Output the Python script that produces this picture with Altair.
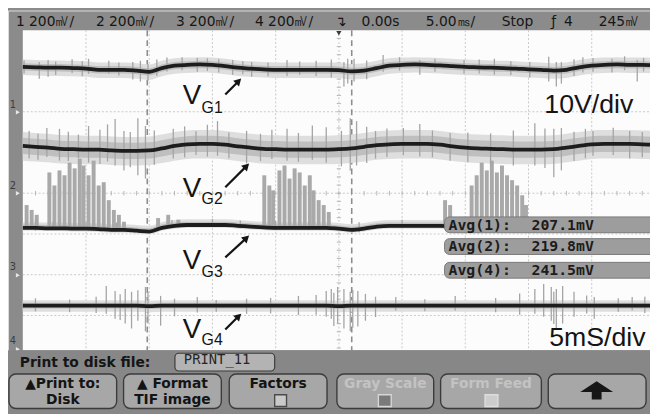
import math
import altair as alt
import pandas as pd
import numpy as np

# ---------------- data (read from the scope screen) ----------------
# time in ms (5 ms/div, trigger at 0), voltages in V referenced to each channel's ground marker (10 V/div)
t_ms = list(range(-25, 26))
vg1 = [11.0, 10.9, 10.8, 10.8, 10.7, 10.6, 10.3, 10.3, 10.3, 10.1, 9.8, 10.7, 11.3, 11.5, 11.6, 11.5, 11.2,
       10.8, 10.6, 10.4, 10.3, 10.3, 10.3, 10.3, 10.3, 10.2, 9.9, 10.1, 10.7, 11.3, 11.5, 11.6, 11.5, 11.4,
       11.2, 11.0, 10.9, 10.8, 10.7, 10.6, 10.4, 10.3, 10.1, 10.3, 10.9, 11.3, 11.5, 11.6, 11.5, 11.5, 11.4]
vg2 = [11.6, 11.4, 11.2, 10.9, 10.8, 10.7, 10.7, 10.5, 10.4, 10.4, 10.5, 11.0, 11.6, 12.0, 12.1, 12.1, 11.9,
       11.5, 11.2, 10.9, 10.8, 10.7, 10.7, 10.7, 10.7, 10.8, 11.0, 11.4, 11.8, 12.0, 12.1, 12.1, 12.1, 11.9,
       11.5, 11.2, 11.0, 10.9, 10.8, 10.7, 10.7, 10.7, 10.8, 11.2, 11.6, 12.0, 12.1, 12.1, 12.1, 12.0, 11.9]
vg3 = [11.5, 11.5, 11.4, 11.4, 11.3, 11.3, 11.2, 11.0, 11.0, 10.8, 10.6, 11.5, 12.0, 12.2, 12.2, 12.2, 12.2,
       12.0, 11.8, 11.6, 11.5, 11.5, 11.5, 11.5, 11.5, 11.3, 11.0, 11.3, 11.8, 12.0, 12.0, 12.0, 12.0, 12.0,
       11.9, 11.8, 11.8, 11.6, 11.5, 11.5, 11.4, 11.3, 11.0, 11.3, 11.8, 12.0, 12.2, 12.2, 12.2, 12.1, 12.0]
vg4 = [12.4, 12.4, 12.4, 12.4, 12.4, 12.4, 12.4, 12.4, 12.4, 12.4, 12.3, 12.4, 12.4, 12.4, 12.4, 12.4, 12.4,
       12.4, 12.4, 12.4, 12.4, 12.4, 12.4, 12.4, 12.4, 12.3, 12.4, 12.4, 12.4, 12.4, 12.4, 12.4, 12.4, 12.4,
       12.4, 12.4, 12.4, 12.4, 12.4, 12.4, 12.4, 12.4, 12.4, 12.4, 12.4, 12.4, 12.4, 12.4, 12.4, 12.4, 12.4]

channels = ["VG1", "VG2", "VG3", "VG4"]
ground_marker_v = [20, 0, -20, -40]     # screen position of each ground marker (screen centre = 0 V)
band_up = [0.9, 2.0, 0.8, 0.7]           # dense noise core around each trace (V)
band_dn = [0.9, 2.0, 0.4, 0.7]
halo_up = [1.8, 3.4, 1.4, 1.3]           # thinner noise halo around each trace (V)
halo_dn = [2.0, 3.6, 0.7, 1.5]

# visible noise spikes: (time ms, top V, bottom V)
spikes1 = [(-23.7, 12.2, 8.1), (-23.0, 12.7, 8.6), (-19.8, 13.0, 9.3), (-18.2, 12.5, 9.3), (-16.3, 12.2, 7.9),
           (-15.7, 12.5, 7.4), (-15.1, 11.8, 7.6), (-11.2, 13.2, 9.8), (-8.4, 12.7, 9.1), (-6.9, 12.2, 8.6),
           (-4.1, 12.7, 8.8), (-1.8, 12.5, 8.8), (0.4, 12.2, 6.2), (0.7, 13.0, 6.9), (1.2, 13.0, 7.4),
           (3.5, 13.9, 9.8), (6.4, 12.7, 9.1), (9.9, 12.7, 9.3), (12.3, 13.0, 9.1), (16.6, 13.5, 7.4),
           (17.2, 12.2, 6.2), (17.6, 12.2, 6.9), (20.1, 13.2, 9.8), (21.6, 13.0, 9.6), (23.6, 12.7, 7.4),
           (-24.9, 12.6, 9.4), (-22.4, 12.3, 9.0), (-21.1, 12.9, 9.5), (-20.3, 12.4, 8.7), (-17.4, 12.1, 8.9),
           (-14.4, 12.8, 8.8), (-13.6, 13.3, 9.9), (-12.4, 13.4, 10.2), (-10.4, 13.1, 10.0), (-9.5, 12.9, 9.6),
           (-7.6, 12.4, 9.2), (-5.6, 12.1, 8.7), (-3.1, 12.3, 9.1), (-0.6, 12.8, 8.4), (2.2, 12.6, 8.0),
           (4.8, 13.4, 10.1), (7.6, 13.0, 9.8), (11.1, 12.8, 9.4), (13.6, 12.4, 9.0), (15.1, 12.2, 8.4),
           (18.6, 12.9, 8.8), (19.3, 13.4, 9.6), (22.6, 13.6, 10.2), (24.1, 13.2, 9.9)]
spikes2 = [(-24.5, 15.3, 8.5), (-22.1, 15.8, 8.0), (-19.8, 16.5, 7.5), (-17.7, 18.2, 6.8), (-17.0, 15.3, 5.6),
           (-15.9, 18.4, 4.4), (-15.3, 16.5, 3.6), (-13.1, 15.8, 8.5), (-9.6, 17.7, 9.2), (-7.3, 15.3, 7.3),
           (-4.1, 15.8, 8.0), (-1.0, 16.2, 7.5), (0.9, 18.4, 5.6), (1.4, 17.7, 6.8), (2.9, 15.3, 8.5),
           (6.4, 17.0, 9.0), (8.8, 14.8, 8.0), (15.5, 17.2, 6.8), (17.0, 15.8, 3.9), (17.6, 16.0, 5.6),
           (20.1, 15.3, 9.2), (23.0, 15.3, 8.5),
           (-23.8, 14.6, 8.2), (-23.1, 16.0, 8.9), (-21.4, 15.1, 7.9), (-20.6, 14.4, 8.6), (-18.9, 15.6, 7.2),
           (-18.3, 16.9, 7.8), (-16.5, 15.0, 6.4), (-14.6, 15.4, 7.0), (-12.2, 16.4, 8.8), (-11.3, 15.2, 9.4),
           (-10.4, 16.8, 9.0), (-8.7, 14.9, 8.6), (-6.2, 14.6, 7.9), (-5.3, 15.6, 8.4), (-3.2, 14.8, 7.7),
           (-2.1, 16.6, 8.2), (0.2, 15.3, 6.6), (2.2, 16.3, 7.4), (3.8, 15.9, 8.9), (5.1, 16.0, 9.3),
           (7.4, 15.4, 8.8), (10.2, 14.9, 7.6), (12.0, 14.7, 7.1), (13.8, 15.4, 6.8), (16.3, 15.9, 6.2),
           (18.6, 15.1, 7.9), (19.5, 15.8, 8.6), (21.7, 16.1, 9.4), (24.0, 15.0, 8.8)]
spikes3 = [(-24.0, 13.5, 10.8), (-22.6, 13.1, 11.0), (-20.0, 13.0, 11.0), (-17.6, 12.8, 10.6), (-13.2, 13.4, 11.6),
           (-10.0, 13.7, 11.8), (-7.8, 13.3, 11.4), (-5.0, 13.2, 11.0), (-2.4, 13.0, 11.0), (1.6, 12.9, 10.4),
           (5.0, 13.5, 11.5)]
spikes4 = [(-18.4, 17.2, 10.4), (-17.7, 16.0, 9.2), (-16.9, 16.5, 8.0), (-16.4, 15.8, 6.8), (-15.9, 16.2, 8.7),
           (-15.3, 17.0, 6.1), (-15.1, 15.8, 8.0), (-14.1, 14.8, 7.5), (-11.2, 14.5, 10.7), (-7.3, 14.1, 10.4),
           (-1.8, 15.0, 10.2), (-1.0, 16.0, 9.7), (-0.6, 16.5, 9.2), (-0.1, 17.0, 8.0), (0.4, 16.5, 6.8),
           (0.9, 15.8, 6.1), (1.5, 16.0, 7.3), (2.1, 15.3, 8.7), (4.5, 14.5, 11.2), (9.2, 14.8, 11.2),
           (15.5, 16.5, 10.4), (16.2, 17.7, 9.7), (16.8, 17.0, 8.7), (17.2, 16.5, 6.8), (17.7, 17.2, 8.0),
           (18.6, 15.8, 9.7), (20.2, 14.5, 9.2), (23.2, 14.5, 11.2),
           (-24.0, 14.2, 11.0), (-21.3, 13.9, 10.8), (-19.2, 14.6, 10.6), (-17.3, 15.2, 8.9), (-13.0, 14.1, 9.8),
           (-9.7, 13.8, 10.9), (-5.4, 14.3, 10.5), (-3.2, 14.8, 10.1), (-0.4, 15.6, 7.4), (1.1, 16.3, 7.0),
           (2.9, 14.6, 9.6), (6.8, 14.0, 11.0), (12.4, 14.3, 10.8), (14.3, 15.4, 10.2), (17.0, 15.8, 7.9),
           (19.6, 14.9, 10.5), (22.1, 14.2, 10.9), (24.2, 14.6, 10.6)]
# bursts of pickup rising above trace 3 (time ms, top V on ch3 scale)
burst_t = [-24.7, -24.3, -23.9, -22.9, -22.5, -22.1, -21.7, -21.3, -20.9, -20.5, -20.2, -19.8, -19.4, -19.0,
           -18.6, -18.2, -17.8, -17.4, -17.0, -14.3, -13.5, -12.7, -5.9, -5.5, -5.2, -4.7, -4.3, -3.9, -3.5,
           -3.1, -2.7, -2.3, -2.0, -1.6, -1.2, -0.8, 8.4, 8.8, 10.5, 10.9, 11.3, 11.7, 12.1, 12.5, 12.9, 13.3,
           13.7, 14.1, 14.5, 14.8]
burst_top = [17.1, 15.9, 14.7, 25.1, 21.9, 25.6, 24.4, 27.5, 26.1, 28.5, 26.8, 24.4, 28.0, 21.9,
             22.7, 18.3, 15.9, 14.7, 13.0, 13.9, 14.7, 13.5, 24.4, 21.9, 20.7, 25.6, 26.8, 23.6, 26.1,
             25.1, 21.9, 24.4, 20.7, 18.3, 17.1, 15.4, 18.3, 17.1, 21.9, 24.4, 27.5, 25.6, 28.0, 25.1, 26.8, 24.4,
             23.2, 21.9, 19.5, 17.1]

avg_names = ["Avg(1):", "Avg(2):", "Avg(4):"]
avg_values = ["207.1mV", "219.8mV", "241.5mV"]
status_items = ["1 200㎷/", "2 200㎷/", "3 200㎷/", "4 200㎷/", "↴", "0.00s", "5.00㎳/", "Stop", "ƒ", "4", "245㎷"]
softkey_top = ["▲Print to:", "▲ Format", "Factors", "Gray Scale", "Form Feed", ""]
softkey_bottom = ["Disk", "TIF image", "", "", "", ""]
softkey_enabled = [True, True, True, False, False, True]

# ---------------- layout (screen of the scope) ----------------
W, H = 650, 406
PX_MS, PX_V = 12.8, 4.125          # 64 px per 5 ms, 41.25 px per 10 V
CX, CY = 343, 193                   # screen centre in page pixels
OFF = 8                             # page margin


def tx(px):  # page x pixel -> ms
    return (px - CX) / PX_MS


def vy(py):  # page y pixel -> screen volts
    return (CY - py) / PX_V


xs = alt.Scale(domain=[tx(OFF), tx(OFF + W)], nice=False, zero=False)
ys = alt.Scale(domain=[vy(OFF + H), vy(OFF)], nice=False, zero=False)


def X(f, **kw):
    return alt.X(f, type="quantitative", scale=xs, axis=None, **kw)


def Y(f, **kw):
    return alt.Y(f, type="quantitative", scale=ys, axis=None, **kw)


layers = []

# screen area
scr = pd.DataFrame({"x1": [tx(23)], "x2": [tx(662)], "y1": [vy(28)], "y2": [vy(352)]})
layers.append(alt.Chart(scr).mark_rect(color="#fcfcfc").encode(x=X("x1"), x2="x2", y=Y("y1"), y2="y2"))

# graticule
vgrid = pd.DataFrame({"t": [-20, -15, -10, -5, 0, 5, 10, 15, 20], "a": vy(28), "b": vy(352)})
layers.append(alt.Chart(vgrid).mark_rule(color="#c9c9c9", strokeWidth=1, strokeDash=[2, 2])
              .encode(x=X("t"), y=Y("a"), y2="b"))
hgrid = pd.DataFrame({"v": [30, 20, 10, 0, -10, -20, -30], "a": tx(23), "b": tx(662)})
layers.append(alt.Chart(hgrid).mark_rule(color="#c9c9c9", strokeWidth=1, strokeDash=[2, 2])
              .encode(y=Y("v"), x=X("a"), x2="b"))
tick_h = pd.DataFrame({"t": list(range(-24, 25)), "a": -0.55, "b": 0.55})
layers.append(alt.Chart(tick_h).mark_rule(color="#b8b8b8").encode(x=X("t"), y=Y("a"), y2="b"))
tick_v = pd.DataFrame({"v": [v for v in range(-38, 40, 2)], "a": -0.17, "b": 0.17})
layers.append(alt.Chart(tick_v).mark_rule(color="#b8b8b8").encode(y=Y("v"), x=X("a"), x2="b"))

# cursors
cur = pd.DataFrame({"t": [tx(149), tx(356)], "a": vy(28), "b": vy(352)})
layers.append(alt.Chart(cur).mark_rule(color="#8d8d8d", strokeWidth=1.6, strokeDash=[6, 4])
              .encode(x=X("t"), y=Y("a"), y2="b"))

traces = [vg1, vg2, vg3, vg4]
rows = []
for ch, g, vals, up, dn, hu, hd in zip(channels, ground_marker_v, traces, band_up, band_dn, halo_up, halo_dn):
    for t, v in zip(t_ms, vals):
        rows.append({"ch": ch, "t": t, "v": v + g, "hi": v + g + up, "lo": v + g - dn,
                     "hhi": v + g + hu, "hlo": v + g - hd})
tr = pd.DataFrame(rows)

# noise halo and core
for ch in channels:
    layers.append(alt.Chart(tr[tr.ch == ch]).mark_area(color="#dedede", interpolate="monotone")
                  .encode(x=X("t"), y=Y("hlo"), y2="hhi"))
for ch in channels:
    layers.append(alt.Chart(tr[tr.ch == ch]).mark_area(color="#bfbfbf", interpolate="monotone")
                  .encode(x=X("t"), y=Y("lo"), y2="hi"))

# bursts (rise from trace 3)
b3 = np.interp(burst_t, t_ms, vg3) + ground_marker_v[2]
bursts = pd.DataFrame({"t": burst_t, "top": np.array(burst_top) + ground_marker_v[2], "bot": b3})
layers.append(alt.Chart(bursts).mark_rule(color="#a9a9a9", strokeWidth=4.0)
              .encode(x=X("t"), y=Y("bot"), y2="top"))

# spikes
srows = []
for g, sp in zip(ground_marker_v, [spikes1, spikes2, spikes3, spikes4]):
    for t, hi, lo in sp:
        srows.append({"t": t, "hi": hi + g, "lo": lo + g})
sp = pd.DataFrame(srows)
layers.append(alt.Chart(sp).mark_rule(color="#a4a4a4", strokeWidth=1.3).encode(x=X("t"), y=Y("lo"), y2="hi"))

# averaged traces
layers.append(alt.Chart(tr).mark_line(color="#1d1d1d", strokeWidth=3.8, interpolate="monotone")
              .encode(x=X("t"), y=Y("v"), detail="ch:N"))

# labels V_Gx with arrows
lab = pd.DataFrame({
    "V": ["V"] * 4,
    "sub": ["G1", "G2", "G3", "G4"],
    "x": [tx(185)] * 4,
    "y": [vy(103), vy(197), vy(270), vy(340)],
    "xs": [tx(204)] * 4,
    "ys": [vy(112), vy(204), vy(278), vy(347)],
})
layers.append(alt.Chart(lab).mark_text(font="Liberation Sans", fontSize=28, align="left", baseline="alphabetic",
                                       color="#141414").encode(x=X("x"), y=Y("y"), text="V:N"))
layers.append(alt.Chart(lab).mark_text(font="Liberation Sans", fontSize=16, align="left", baseline="alphabetic",
                                       color="#141414").encode(x=X("xs"), y=Y("ys"), text="sub:N"))

arrow_px = [((228, 93), (244, 77)), ((228, 187), (252, 163)), ((228, 258), (252, 236)), ((228, 331), (244, 315))]
arows, hrows = [], []
for (x0, y0), (x1, y1) in arrow_px:
    dx, dy = x1 - x0, y1 - y0
    L = math.hypot(dx, dy)
    ux, uy = dx / L, dy / L
    arows.append({"x": tx(x0), "y": vy(y0), "x2": tx(x1 - ux * 4), "y2": vy(y1 - uy * 4)})
    hrows.append({"x": tx(x1 - ux * 3.5), "y": vy(y1 - uy * 3.5), "ang": math.degrees(math.atan2(dx, -dy))})
layers.append(alt.Chart(pd.DataFrame(arows)).mark_rule(color="#141414", strokeWidth=2.2)
              .encode(x=X("x"), y=Y("y"), x2="x2", y2="y2"))
layers.append(alt.Chart(pd.DataFrame(hrows)).mark_point(shape="triangle-up", filled=True, size=70,
                                                       color="#141414", opacity=1)
              .encode(x=X("x"), y=Y("y"), angle=alt.Angle("ang:Q", scale=None)))

scale_txt = pd.DataFrame({"txt": ["10V/div", "5mS/div"], "x": [tx(551), tx(556)], "y": [vy(112), vy(348)]})
layers.append(alt.Chart(scale_txt).mark_text(font="Liberation Sans", fontSize=27, align="left",
                                             baseline="alphabetic", color="#141414")
              .encode(x=X("x"), y=Y("y"), text="txt:N"))

# Avg measurement boxes
avg_y = [225, 247, 271]
avg = pd.DataFrame({"name": avg_names, "val": avg_values,
                    "x1": tx(450), "x2": tx(664),
                    "y1": [vy(c - 8) for c in avg_y], "y2": [vy(c + 8) for c in avg_y],
                    "xn": tx(454), "xv": tx(538), "yc": [vy(c) for c in avg_y]})
layers.append(alt.Chart(avg).mark_rect(color="#9d9d9d", stroke="#7a7a7a", strokeWidth=1, cornerRadius=5)
              .encode(x=X("x1"), x2="x2", y=Y("y1"), y2="y2"))
layers.append(alt.Chart(avg).mark_text(font="DejaVu Sans Mono", fontWeight="bold", fontSize=15, align="left",
                                       color="#1c1c1c").encode(x=X("xn"), y=Y("yc"), text="name:N"))
layers.append(alt.Chart(avg).mark_text(font="DejaVu Sans Mono", fontWeight="bold", fontSize=15, align="left",
                                       color="#1c1c1c").encode(x=X("xv"), y=Y("yc"), text="val:N"))

# trigger marker at top centre
trig = pd.DataFrame({"x": [0.0], "y": [vy(31)]})
layers.append(alt.Chart(trig).mark_point(shape="triangle-down", filled=True, size=28, color="#3a3a3a", opacity=1)
              .encode(x=X("x"), y=Y("y")))

# channel ground markers on left strip
gm = pd.DataFrame({"lab": ["1", "2", "3", "4"], "x": tx(13), "y": [vy(104), vy(186), vy(268), vy(343)],
                   "ax": tx(18), "ay": [vy(111), vy(193), vy(276), vy(351)]})
layers.append(alt.Chart(gm).mark_text(font="DejaVu Sans", fontSize=10, color="#3c3c3c")
              .encode(x=X("x"), y=Y("y"), text="lab:N"))
layers.append(alt.Chart(gm).mark_point(shape="triangle-right", filled=True, size=22, color="#e8e8e8", opacity=1)
              .encode(x=X("ax"), y=Y("ay")))

# bottom menu bar
bar = pd.DataFrame({"x1": [tx(0)], "x2": [tx(670)], "y1": [vy(352)], "y2": [vy(420)]})
layers.append(alt.Chart(bar).mark_rect(color="#878787").encode(x=X("x1"), x2="x2", y=Y("y1"), y2="y2"))

# status line
status = pd.DataFrame({"txt": status_items,
                       "x": [tx(p) for p in [16, 97, 178, 258, 339, 366, 431, 508, 558, 571, 606]],
                       "y": vy(20)})
layers.append(alt.Chart(status).mark_text(font="DejaVu Sans", fontSize=14, align="left", color="#161616")
              .encode(x=X("x"), y=Y("y"), text="txt:N"))

# print-to-disk line
pr = pd.DataFrame({"txt": ["Print to disk file:"], "x": [tx(20)], "y": [vy(365)]})
layers.append(alt.Chart(pr).mark_text(font="DejaVu Sans", fontWeight="bold", fontSize=14, align="left",
                                      color="#151515").encode(x=X("x"), y=Y("y"), text="txt:N"))
fbox = pd.DataFrame({"x1": [tx(177)], "x2": [tx(278)], "y1": [vy(355)], "y2": [vy(373)],
                     "txt": ["PRINT_11"], "x": [tx(186)], "y": [vy(362)]})
layers.append(alt.Chart(fbox).mark_rect(color="#b3b3b3", stroke="#3d3d3d", strokeWidth=1.2, cornerRadius=4)
              .encode(x=X("x1"), x2="x2", y=Y("y1"), y2="y2"))
layers.append(alt.Chart(fbox).mark_text(font="DejaVu Sans Mono", fontSize=14, align="left", color="#262626")
              .encode(x=X("x"), y=Y("y"), text="txt:N"))

# softkeys
key_x = [(9, 118), (125, 224), (232, 331), (341, 439), (446, 548), (555, 654)]
keys = pd.DataFrame({"x1": [tx(a) for a, b in key_x], "x2": [tx(b) for a, b in key_x],
                     "xc": [tx((a + b) / 2) for a, b in key_x],
                     "y1": vy(376), "y2": vy(411),
                     "top": softkey_top, "bot": softkey_bottom,
                     "col": ["#141414" if e else "#c3c3c3" for e in softkey_enabled],
                     "yt": vy(386), "yb": vy(402)})
layers.append(alt.Chart(keys).mark_rect(color="#a7a7a7", stroke="#3b3b3b", strokeWidth=1.4, cornerRadius=7)
              .encode(x=X("x1"), x2="x2", y=Y("y1"), y2="y2"))
layers.append(alt.Chart(keys).mark_text(font="DejaVu Sans", fontWeight="bold", fontSize=14)
              .encode(x=X("xc"), y=Y("yt"), text="top:N", color=alt.Color("col:N", scale=None)))
layers.append(alt.Chart(keys).mark_text(font="DejaVu Sans", fontWeight="bold", fontSize=14)
              .encode(x=X("xc"), y=Y("yb"), text="bot:N", color=alt.Color("col:N", scale=None)))
cb = pd.DataFrame({"x1": [tx(278), tx(383), tx(491)], "x2": [tx(290), tx(396), tx(504)],
                   "y1": vy(397), "y2": vy(409), "fill": ["#c9c9c9", "#7a7a7a", "#cdcdcd"],
                   "stroke": ["#4a4a4a", "#d6d6d6", "#dedede"]})
layers.append(alt.Chart(cb).mark_rect(strokeWidth=1.4)
              .encode(x=X("x1"), x2="x2", y=Y("y1"), y2="y2",
                      color=alt.Color("fill:N", scale=None), stroke=alt.Stroke("stroke:N", scale=None)))
up = pd.DataFrame({"x": [tx(604)], "y": [vy(395)]})
layers.append(alt.Chart(up).mark_point(
    shape="M-1,-0.05L0,-0.7L1,-0.05Z M-0.3,-0.06L0.3,-0.06L0.3,0.42L-0.3,0.42Z",
    filled=True, size=1100, color="#161616", opacity=1).encode(x=X("x"), y=Y("y")))

chart = alt.layer(*layers).properties(
    width=W, height=H, autosize=alt.AutoSizeParams(type="none"), padding=0
).configure_view(stroke=None).configure(background="#8b8b8b")

chart.save("out.html", embed_options={"renderer": "svg", "actions": False})
